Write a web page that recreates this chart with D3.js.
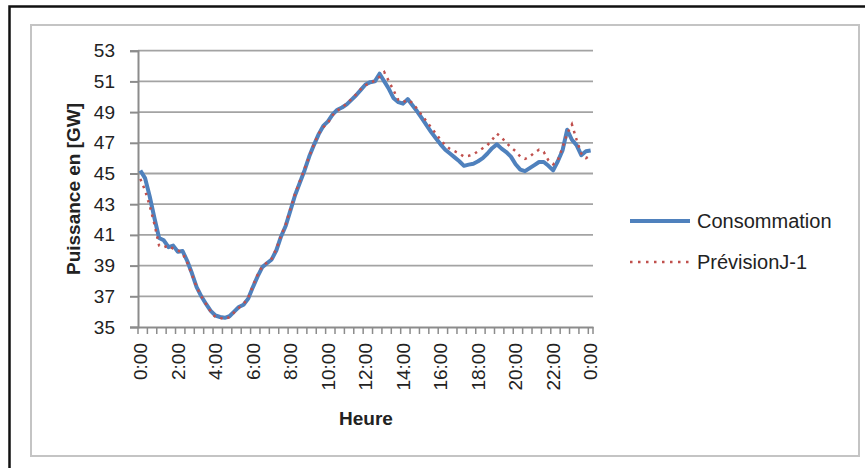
<!DOCTYPE html>
<html>
<head>
<meta charset="utf-8">
<script src="https://cdn.jsdelivr.net/npm/d3@7"></script>
<style>
  body { margin: 0; background: #fff; }
  svg { display: block; font-family: "Liberation Sans", Arial, sans-serif; }
</style>
</head>
<body>
<div id="chart"></div>
<script>
// quarter-hour readings, 0:00 to 24:00
var times = d3.range(0, 97).map(function(i) {
    var m = i * 15;
    return Math.floor(m / 60) % 24 + ":" + d3.format("02")(m % 60);
});

var consommation = [
    45.2, 44.7, 43.5, 42.1, 40.8, 40.65, 40.2, 40.3, 39.9, 39.95, 39.3, 38.5,
    37.6, 37.0, 36.5, 36.05, 35.75, 35.65, 35.6, 35.7, 36.0, 36.3, 36.45, 36.85,
    37.6, 38.3, 38.9, 39.15, 39.4, 40.0, 40.9, 41.6, 42.6, 43.6, 44.4, 45.2,
    46.1, 46.85, 47.55, 48.1, 48.4, 48.85, 49.15, 49.3, 49.5, 49.8, 50.1, 50.45,
    50.8, 50.95, 51.0, 51.5, 51.0, 50.5, 49.9, 49.65, 49.55, 49.85, 49.45, 49.05,
    48.6, 48.15, 47.7, 47.3, 46.9, 46.55, 46.3, 46.05, 45.8, 45.5, 45.58, 45.64,
    45.8, 46.0, 46.3, 46.65, 46.9, 46.62, 46.4, 46.1, 45.6, 45.25, 45.15, 45.35,
    45.55, 45.75, 45.75, 45.5, 45.2, 45.8, 46.5, 47.85, 47.2, 46.85, 46.2, 46.45,
    46.5
];

var prevision = [
    44.65, 43.9, 42.9, 41.7, 40.3, 40.2, 40.3, 40.1, 40.0, 39.8, 39.2, 38.4,
    37.6, 37.0, 36.5, 36.0, 35.65, 35.6, 35.5, 35.65, 35.95, 36.25, 36.5, 36.9,
    37.7, 38.4, 38.95, 39.2, 39.45, 40.1, 40.95, 41.7, 42.7, 43.7, 44.5, 45.3,
    46.1, 46.9, 47.6, 48.0, 48.3, 48.8, 49.1, 49.3, 49.55, 49.85, 50.15, 50.5,
    50.75, 50.9, 51.05, 51.3, 51.6, 51.0, 50.4, 49.8, 49.65, 49.8, 49.6, 49.2,
    48.8, 48.4, 48.0, 47.6, 47.2, 46.85, 46.6, 46.45, 46.3, 46.1, 46.15, 46.25,
    46.45, 46.65, 46.85, 47.2, 47.6, 47.35, 47.0, 46.7, 46.45, 46.1, 45.95, 46.1,
    46.35, 46.55, 46.4, 45.85, 45.6, 45.85, 46.7, 47.6, 48.2, 47.2, 46.3, 46.0,
    46.2
];

var yTicks = [35, 37, 39, 41, 43, 45, 47, 49, 51, 53];
var xLabels = ["0:00", "2:00", "4:00", "6:00", "8:00", "10:00", "12:00",
               "14:00", "16:00", "18:00", "20:00", "22:00", "0:00"];
var seriesNames = ["Consommation", "PrévisionJ-1"];

function init() {
    var w = 865;
    var h = 468;

    var svg = d3.select("#chart")
                .append("svg")
                .attr("width", w)
                .attr("height", h);

    // frame
    svg.append("path")
        .attr("d", "M9.5,470 L9.5,6.5 L870,6.5")
        .attr("fill", "none")
        .attr("stroke", "#111")
        .attr("stroke-width", 2.5);

    svg.append("rect")
        .attr("x", 31)
        .attr("y", 25)
        .attr("width", 828)
        .attr("height", 431)
        .attr("fill", "#fff")
        .attr("stroke", "#c4c4c4")
        .attr("stroke-width", 2);

    var xScale = d3.scaleBand()
                .domain(d3.range(times.length))
                .range([138, 593]);
    var bw = xScale.bandwidth();

    var yScale = d3.scaleLinear()
                .domain([35, 53])
                .range([327, 50.7]);

    // gridlines
    svg.selectAll(".grid")
        .data(yTicks.slice(1))
        .enter()
        .append("line")
        .attr("class", "grid")
        .attr("x1", 138)
        .attr("x2", 593)
        .attr("y1", function(d) { return yScale(d); })
        .attr("y2", function(d) { return yScale(d); })
        .attr("stroke", "#a3a3a3")
        .attr("stroke-width", 1.8);

    // y axis
    var yAxis = svg.append("g")
        .attr("transform", "translate(138,0)")
        .call(d3.axisLeft(yScale).tickValues(yTicks).tickSize(8).tickPadding(15));
    yAxis.selectAll("path, line").attr("stroke", "#8c8c8c").attr("stroke-width", 2);
    yAxis.selectAll("text")
        .attr("font-size", 19)
        .attr("fill", "#222")
        .style("font-family", "'Liberation Sans', Arial, sans-serif");

    // x axis
    var labelIdx = d3.range(0, times.length, 8);
    var xAxis = svg.append("g")
        .attr("transform", "translate(0,327)")
        .call(d3.axisBottom(xScale)
            .tickValues(labelIdx)
            .tickSize(0)
            .tickFormat(function(d, i) { return xLabels[i]; }));
    xAxis.select(".domain").attr("stroke", "#8c8c8c").attr("stroke-width", 2);
    xAxis.selectAll("text")
        .attr("font-size", 19)
        .attr("fill", "#222")
        .style("font-family", "'Liberation Sans', Arial, sans-serif")
        .attr("text-anchor", "end")
        .attr("y", 0)
        .attr("dy", "0.35em")
        .attr("transform", "translate(0,16) rotate(-90)");

    var minor = d3.range(0, times.length, 2).map(function(i) { return xScale(i); });
    minor.push(593);
    svg.selectAll(".minor")
        .data(minor)
        .enter()
        .append("line")
        .attr("class", "minor")
        .attr("x1", function(d) { return d; })
        .attr("x2", function(d) { return d; })
        .attr("y1", 327)
        .attr("y2", 334)
        .attr("stroke", "#8c8c8c")
        .attr("stroke-width", 1.5);

    // lines
    var line = d3.line()
        .x(function(d, i) { return xScale(i) + bw / 2; })
        .y(function(d) { return yScale(d); });

    svg.append("path")
        .datum(consommation)
        .attr("d", line)
        .attr("fill", "none")
        .attr("stroke", "#4f81bd")
        .attr("stroke-width", 4)
        .attr("stroke-linejoin", "round");

    svg.append("path")
        .datum(prevision)
        .attr("d", line)
        .attr("fill", "none")
        .attr("stroke", "#c0504d")
        .attr("stroke-width", 2.5)
        .attr("stroke-dasharray", "2.5,5");

    // axis titles
    svg.append("text")
        .attr("x", 366)
        .attr("y", 425)
        .attr("text-anchor", "middle")
        .attr("font-size", 19)
        .attr("font-weight", "bold")
        .attr("fill", "#222")
        .text("Heure");

    svg.append("text")
        .attr("transform", "translate(80,189) rotate(-90)")
        .attr("text-anchor", "middle")
        .attr("font-size", 19)
        .attr("font-weight", "bold")
        .attr("fill", "#222")
        .text("Puissance en [GW]");

    // legend
    var legend = svg.selectAll(".legend")
        .data(seriesNames)
        .enter()
        .append("g")
        .attr("class", "legend")
        .attr("transform", function(d, i) { return "translate(630," + (221 + i * 41) + ")"; });

    legend.append("line")
        .attr("x1", 0)
        .attr("x2", 60)
        .attr("stroke", function(d, i) { return i == 0 ? "#4f81bd" : "#c0504d"; })
        .attr("stroke-width", function(d, i) { return i == 0 ? 4 : 2.5; })
        .attr("stroke-dasharray", function(d, i) { return i == 0 ? null : "2.5,5.5"; });

    legend.append("text")
        .attr("x", 67)
        .attr("dy", "0.35em")
        .attr("font-size", 20)
        .attr("fill", "#222")
        .text(function(d) { return d; });
}

window.onload = init;
</script>
</body>
</html>
